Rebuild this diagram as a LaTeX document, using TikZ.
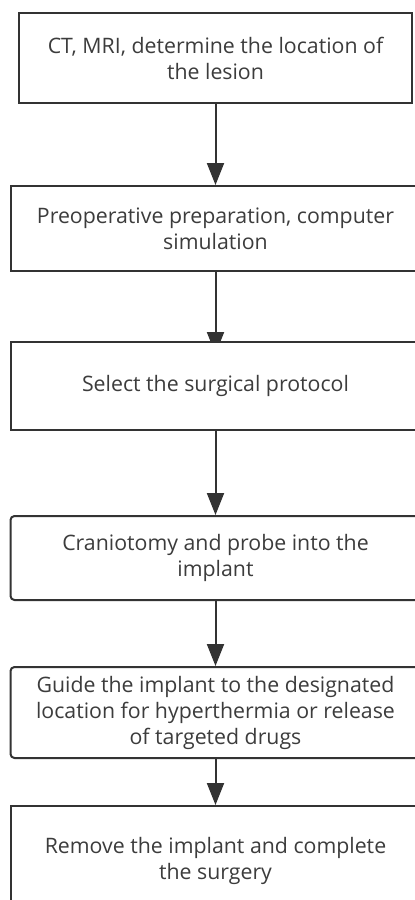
\documentclass[tikz,border=0pt]{standalone}
\usepackage{fontspec}
\setmainfont{Open Sans}
\usetikzlibrary{arrows.meta,positioning,backgrounds}
\definecolor{ink}{HTML}{333333}
\definecolor{txt}{HTML}{3C3C3C}
\tikzset{
  stepbox/.style ={draw=ink,line width=2pt,fill=white,align=center,
                   minimum width=410pt,inner sep=0pt,text=txt,
                   font=\fontsize{21.3}{26}\selectfont},
  roundbox/.style={stepbox,rounded corners=4pt},
  flow/.style    ={-{Triangle[length=22pt,width=17pt]},line width=2pt,draw=ink}
}
\begin{document}
\begin{tikzpicture}
  \useasboundingbox (0,0) rectangle (415pt,-900pt);
  \node[stepbox,minimum width=393pt,minimum height=90pt,anchor=north] (scan) at (215.5pt,-12pt)
        {CT, MRI, determine the location of\\the lesion};
  \node[stepbox,minimum height=85pt,below=81pt of scan] (prep)
        {Preoperative preparation, computer\\simulation};
  \node[stepbox,minimum height=88pt,below=69pt of prep] (plan)
        {Select the surgical protocol};
  \node[roundbox,minimum height=84pt,below=84pt of plan] (open)
        {Craniotomy and probe into the\\implant};
  \node[roundbox,minimum height=91pt,below=65pt of open] (guide)
        {Guide the implant to the designated\\location for hyperthermia or release\\of targeted drugs};
  \node[stepbox,minimum height=110pt,below=46pt of guide] (done)
        {Remove the implant and complete\\the surgery};
  \draw[flow] (scan) -- (prep);
  \begin{scope}[on background layer]
    \draw[flow,shorten >=-13pt] (prep) -- (plan);
  \end{scope}
  \draw[flow] (plan) -- (open);
  \draw[flow] (open) -- (guide);
  \draw[flow] (guide) -- (done);
\end{tikzpicture}
\end{document}
